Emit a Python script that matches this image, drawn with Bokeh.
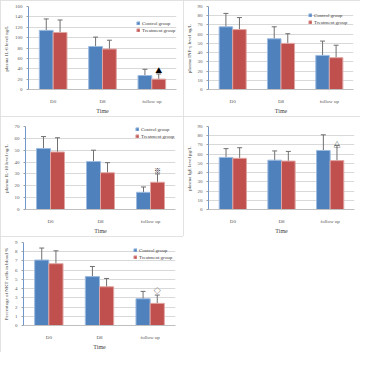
from bokeh.plotting import figure
from bokeh.layouts import column, row
from bokeh.models import ColumnDataSource, Whisker, TeeHead, SingleIntervalTicker, Range1d, FactorRange
from bokeh.transform import dodge
from bokeh.core.properties import value
from bokeh.embed import file_html
from bokeh.resources import INLINE

times = ["D0", "D8", "follow up"]
groups = ["Control group", "Treatment group"]

# Panel 1: IL-6
il6_control = [114, 83, 27]
il6_control_sd = [22, 18, 12]
il6_treat = [110, 78, 20]
il6_treat_sd = [24, 17, 10]
il6_mark = ["", "", "▲"]
il6_mark_y = [float("nan"), float("nan"), 38]

# Panel 2: INF-γ
inf_control = [68, 55, 37]
inf_control_sd = [14.5, 13, 15.5]
inf_treat = [65, 50, 34.5]
inf_treat_sd = [13, 10.5, 13.5]
inf_mark = ["", "", ""]
inf_mark_y = [float("nan"), float("nan"), float("nan")]

# Panel 3: IL-10
il10_control = [51.5, 40.5, 14.5]
il10_control_sd = [10, 9.5, 4.5]
il10_treat = [48.5, 31, 23]
il10_treat_sd = [12, 8.5, 7]
il10_mark = ["", "", "※"]
il10_mark_y = [float("nan"), float("nan"), 33]

# Panel 4: IgE
ige_control = [56.5, 53.5, 64]
ige_control_sd = [9.5, 10, 17]
ige_treat = [55.5, 52.5, 53]
ige_treat_sd = [11.5, 10.5, 16.5]
ige_mark = ["", "", "△"]
ige_mark_y = [float("nan"), float("nan"), 71.5]

# Panel 5: NKT cells
nkt_control = [7.1, 5.3, 2.9]
nkt_control_sd = [1.3, 1.1, 0.8]
nkt_treat = [6.7, 4.2, 2.4]
nkt_treat_sd = [1.4, 0.9, 0.9]
nkt_mark = ["", "", "◇"]
nkt_mark_y = [float("nan"), float("nan"), 3.8]

BLUE = "#4F81BD"
RED = "#C0504D"
SERIF = "Liberation Serif"


def panel(ylabel, ctrl, csd, trt, tsd, mark, mark_y, ymax, ystep,
          w, h, left, top, right, bottom, leg_xy):
    src = ColumnDataSource(dict(
        time=times, ctrl=ctrl, trt=trt,
        c_up=[v + e for v, e in zip(ctrl, csd)], c_lo=[v - e for v, e in zip(ctrl, csd)],
        t_up=[v + e for v, e in zip(trt, tsd)], t_lo=[v - e for v, e in zip(trt, tsd)],
        mark=mark, mark_y=mark_y))
    p = figure(x_range=FactorRange(*times), y_range=Range1d(0, ymax),
               width=w, height=h, output_backend="svg", toolbar_location=None,
               min_border_left=left, min_border_top=top, min_border_right=right,
               min_border_bottom=bottom)
    p.outline_line_color = None
    p.styles = {"outline": "1px solid #d9d9d9", "outline-offset": "-1px"}
    p.vbar(x=dodge("time", -0.14, range=p.x_range), top="ctrl", width=0.28, source=src,
           fill_color=BLUE, line_color="#9dbbe0", line_width=1, legend_label=groups[0])
    p.vbar(x=dodge("time", 0.14, range=p.x_range), top="trt", width=0.28, source=src,
           fill_color=RED, line_color="#e0a5a3", line_width=1, legend_label=groups[1])
    for off, up, lo in ((-0.14, "c_up", "c_lo"), (0.14, "t_up", "t_lo")):
        wk = Whisker(base=dodge("time", off, range=p.x_range), upper=up, lower=lo, source=src,
                     line_color="#707070", line_width=1,
                     upper_head=TeeHead(size=5, line_color="#707070", line_width=1),
                     lower_head=TeeHead(size=5, line_color="#707070", line_width=1))
        p.add_layout(wk)
    p.text(x=dodge("time", 0.14, range=p.x_range), y="mark_y", text="mark", source=src,
           text_font=value("Noto Sans CJK SC"), text_font_size="7px",
           text_align="center", text_baseline="middle", text_color="black")

    p.xgrid.visible = False
    p.ygrid.grid_line_color = "#d9d9d9"
    p.ygrid.grid_line_width = 1

    p.yaxis.ticker = SingleIntervalTicker(interval=ystep)
    p.yaxis.axis_line_color = "#6f97cc"
    p.yaxis.axis_line_width = 1
    p.yaxis.major_tick_line_color = "#a0a0a0"
    p.yaxis.major_tick_out = 2
    p.yaxis.major_tick_in = 0
    p.yaxis.minor_tick_line_color = None
    p.yaxis.major_label_standoff = 2
    p.yaxis.axis_label = ylabel
    p.yaxis.axis_label_standoff = 3

    p.xaxis.axis_line_color = "#bfbfbf"
    p.xaxis.major_tick_line_color = None
    p.xaxis.minor_tick_line_color = None
    p.xaxis.major_label_standoff = 3
    p.xaxis.axis_label = "Time"
    p.xaxis.axis_label_standoff = 1

    for ax in (p.xaxis, p.yaxis):
        ax.major_label_text_font = SERIF
        ax.major_label_text_font_size = "5px"
        ax.major_label_text_color = "#595959"
        ax.axis_label_text_font = SERIF
        ax.axis_label_text_font_style = "normal"
        ax.axis_label_text_color = "#404040"
    p.yaxis.axis_label_text_font_size = "5px"
    p.xaxis.axis_label_text_font_size = "6px"

    lg = p.legend[0]
    lg.location = leg_xy
    lg.label_text_font = SERIF
    lg.label_text_font_size = "5px"
    lg.label_text_color = "#404040"
    lg.glyph_width = 4
    lg.glyph_height = 4
    lg.label_height = 6
    lg.label_standoff = 2
    lg.spacing = 1
    lg.padding = 0
    lg.margin = 0
    lg.background_fill_alpha = 0
    lg.border_line_color = None
    return p


p1 = panel("plasma IL-6 level  ng/L", il6_control, il6_control_sd, il6_treat, il6_treat_sd,
           il6_mark, il6_mark_y, 160, 20, 183, 116, 23, 6, 7, 18, (108, 56))
p2 = panel("plasma INF-γ level  ng/L", inf_control, inf_control_sd, inf_treat, inf_treat_sd,
           inf_mark, inf_mark_y, 90, 10, 177, 116, 21, 6, 7, 18, (100, 64))
p3 = panel("plasma IL-10 level  ng/L", il10_control, il10_control_sd, il10_treat, il10_treat_sd,
           il10_mark, il10_mark_y, 70, 10, 183, 120, 21, 5, 8, 17, (110, 70))
p4 = panel("plasma IgE level  pg/L", ige_control, ige_control_sd, ige_treat, ige_treat_sd,
           ige_mark, ige_mark_y, 90, 10, 177, 120, 21, 10, 6, 16, (108, 89))
p5 = panel("Percentage of NKT cells in blood %", nkt_control, nkt_control_sd, nkt_treat, nkt_treat_sd,
           nkt_mark, nkt_mark_y, 9, 1, 183, 116, 18, 6, 8, 15, (110, 65))

layout = column(row(p1, p2), row(p3, p4), p5)
open("out.html", "w").write(file_html(layout, INLINE))
